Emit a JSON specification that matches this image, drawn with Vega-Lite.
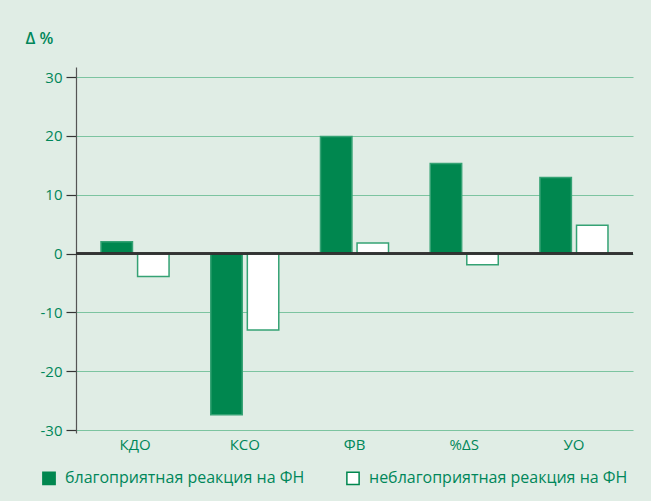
{
  "$schema": "https://vega.github.io/schema/vega-lite/v6.json",
  "width": 557,
  "height": 366,
  "autosize": {"type": "none"},
  "padding": {"left": 76, "top": 67, "right": 18, "bottom": 68},
  "background": "#e0ede5",
  "config": {
    "font": "Open Sans",
    "view": {"stroke": null},
    "axis": {"labelFont": "Open Sans", "titleFont": "Open Sans"},
    "legend": {"labelFont": "Open Sans"}
  },
  "data": {
    "values": [
      {"param": "КДО", "group": "благоприятная реакция на ФН", "value": 2.0},
      {"param": "КДО", "group": "неблагоприятная реакция на ФН", "value": -3.9},
      {"param": "КСО", "group": "благоприятная реакция на ФН", "value": -27.4},
      {"param": "КСО", "group": "неблагоприятная реакция на ФН", "value": -13.0},
      {"param": "ФВ", "group": "благоприятная реакция на ФН", "value": 19.9},
      {"param": "ФВ", "group": "неблагоприятная реакция на ФН", "value": 1.8},
      {"param": "%ΔS", "group": "благоприятная реакция на ФН", "value": 15.3},
      {"param": "%ΔS", "group": "неблагоприятная реакция на ФН", "value": -1.9},
      {"param": "УО", "group": "благоприятная реакция на ФН", "value": 12.9},
      {"param": "УО", "group": "неблагоприятная реакция на ФН", "value": 4.8}
    ]
  },
  "layer": [
    {
      "mark": {"type": "bar", "stroke": "#35a274", "strokeWidth": 1.5},
      "encoding": {
        "x": {
          "field": "param",
          "type": "nominal",
          "sort": ["КДО", "КСО", "ФВ", "%ΔS", "УО"],
          "scale": {"paddingInner": 0.38, "paddingOuter": 0.228},
          "axis": {
            "title": null,
            "orient": "bottom",
            "domain": false,
            "ticks": false,
            "grid": false,
            "labelAngle": 0,
            "labelPadding": 4,
            "labelFontSize": 15,
            "labelColor": "#00875a"
          }
        },
        "xOffset": {
          "field": "group",
          "type": "nominal",
          "sort": ["благоприятная реакция на ФН", "неблагоприятная реакция на ФН"],
          "scale": {"paddingInner": 0.14}
        },
        "y": {
          "field": "value",
          "type": "quantitative",
          "scale": {"domain": [-30.5, 31.7], "nice": false, "zero": false},
          "axis": {
            "values": [-30, -20, -10, 0, 10, 20, 30],
            "labelExpr": "replace(datum.label, '−', '-')",
            "title": "Δ %",
            "titleAngle": 0,
            "titleX": -51,
            "titleY": -24,
            "titleAlign": "left",
            "titleBaseline": "alphabetic",
            "titleFontSize": 16,
            "titleFontWeight": 600,
            "titleColor": "#00875a",
            "domainColor": "#555555",
            "domainWidth": 1.2,
            "tickColor": "#333333",
            "tickSize": 10,
            "tickWidth": 1.2,
            "labelPadding": 4,
            "labelFontSize": 15,
            "labelColor": "#00875a",
            "grid": true,
            "gridColor": "#7cc4a0",
            "gridWidth": 1.2
          }
        },
        "color": {
          "field": "group",
          "type": "nominal",
          "sort": ["благоприятная реакция на ФН", "неблагоприятная реакция на ФН"],
          "scale": {
            "domain": ["благоприятная реакция на ФН", "неблагоприятная реакция на ФН"],
            "range": ["#00874f", "#ffffff"]
          },
          "legend": {
            "title": null,
            "orient": "none",
            "direction": "horizontal",
            "legendX": -35,
            "legendY": 403,
            "symbolType": "square",
            "symbolSize": 150,
            "symbolStrokeColor": "#00874f",
            "symbolStrokeWidth": 1.5,
            "symbolOpacity": 1,
            "labelFontSize": 16,
            "labelColor": "#00875a",
            "labelLimit": 400,
            "labelOffset": 8,
            "columnPadding": 38
          }
        }
      }
    },
    {
      "mark": {"type": "rule", "color": "#333333", "strokeWidth": 1.5},
      "encoding": {"y": {"datum": 0}}
    }
  ]
}
